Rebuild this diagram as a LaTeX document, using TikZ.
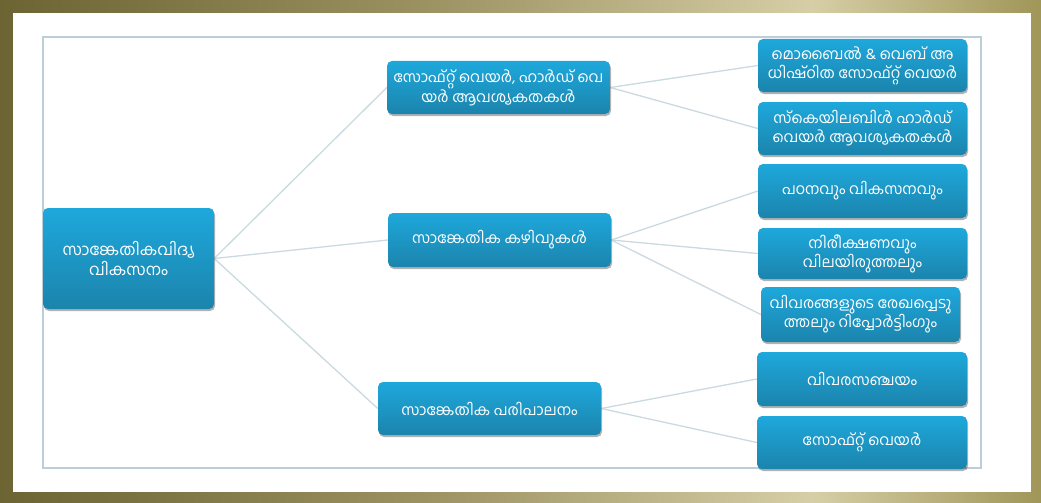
\documentclass[tikz,border=0pt]{standalone}
\usepackage{fontspec}
\newfontfamily\mlfont[Script=Malayalam]{Hind Kochi}
\usetikzlibrary{shadows}
\definecolor{gA}{HTML}{6C6433}
\definecolor{gB}{HTML}{9A9060}
\definecolor{gC}{HTML}{D6CEA6}
\definecolor{gD}{HTML}{A09658}
\definecolor{nodeTop}{HTML}{1EA8DC}
\definecolor{nodeBot}{HTML}{1B84AC}
\definecolor{linkc}{HTML}{CBDAE1}
\definecolor{framec}{HTML}{BCCFD8}
\pgfdeclarehorizontalshading{goldframe}{100bp}{color(0bp)=(gA); color(25bp)=(gA); color(45bp)=(gB); color(64bp)=(gC); color(75bp)=(gD); color(100bp)=(gD)}
\pgfdeclarelayer{framelayer}
\pgfdeclarelayer{linklayer}
\pgfsetlayers{framelayer,linklayer,main}
\begin{document}
\begin{tikzpicture}[x=1pt,y=-1pt,
  box/.style={rectangle, rounded corners=5pt, top color=nodeTop, bottom color=nodeBot,
    draw=none, text=white, align=center, inner sep=2pt,
    font=\mlfont\fontsize{15}{19}\selectfont,
    drop shadow={shadow xshift=1pt, shadow yshift=-2pt, opacity=0.3, fill=black}},
  link/.style={draw=linkc, line width=1.3pt}]
\useasboundingbox (0,0) rectangle (1041,503);
\begin{pgfonlayer}{framelayer}
  \shade[shading=goldframe] (0,0) rectangle (1041,503);
  \fill[white] (13,13) rectangle (1031,492);
  \draw[framec, line width=1.5pt] (43,37) rectangle (981,468);
\end{pgfonlayer}

\node[box, minimum width=171pt, minimum height=101pt, font=\mlfont\fontsize{16}{20}\selectfont] (root) at (128.5,258.5) {സാങ്കേതികവിദ്യ\\വികസനം};

\node[box, minimum width=223pt, minimum height=53pt] (a) at (498.5,87.5) {സോഫ്റ്റ് വെയർ, ഹാർഡ് വെ\\യർ ആവശ്യകതകൾ};
\node[box, minimum width=223pt, minimum height=54pt] (b) at (499.5,240) {സാങ്കേതിക കഴിവുകൾ};
\node[box, minimum width=223pt, minimum height=53pt] (c) at (489.5,408.5) {സാങ്കേതിക പരിപാലനം};

\node[box, minimum width=209pt, minimum height=53pt] (a1) at (862.5,65.5) {മൊബൈൽ \& വെബ് അ\\ധിഷ്ഠിത സോഫ്റ്റ് വെയർ};
\node[box, minimum width=209pt, minimum height=53pt] (a2) at (862.5,128.5) {സ്കെയിലബിൾ ഹാർഡ്\\വെയർ ആവശ്യകതകൾ};
\node[box, minimum width=209pt, minimum height=54pt] (b1) at (862.5,191) {പഠനവും വികസനവും};
\node[box, minimum width=209pt, minimum height=51pt] (b2) at (862.5,253.5) {നിരീക്ഷണവും\\വിലയിരുത്തലും};
\node[box, minimum width=199pt, minimum height=55pt] (b3) at (860.5,314.5) {വിവരങ്ങളുടെ രേഖപ്പെടു\\ത്തലും റിപ്പോർട്ടിംഗും};
\node[box, minimum width=210pt, minimum height=54pt] (c1) at (862,379) {വിവരസഞ്ചയം};
\node[box, minimum width=210pt, minimum height=53pt] (c2) at (862,442.5) {സോഫ്റ്റ് വെയർ};

\begin{pgfonlayer}{linklayer}
  \draw[link] (root.east) -- (a.west);
  \draw[link] (root.east) -- (b.west);
  \draw[link] (root.east) -- (c.west);
  \draw[link] (a.east) -- (a1.west);
  \draw[link] (a.east) -- (a2.west);
  \draw[link] (b.east) -- (b1.west);
  \draw[link] (b.east) -- (b2.west);
  \draw[link] (b.east) -- (b3.west);
  \draw[link] (c.east) -- (c1.west);
  \draw[link] (c.east) -- (c2.west);
\end{pgfonlayer}
\end{tikzpicture}
\end{document}
